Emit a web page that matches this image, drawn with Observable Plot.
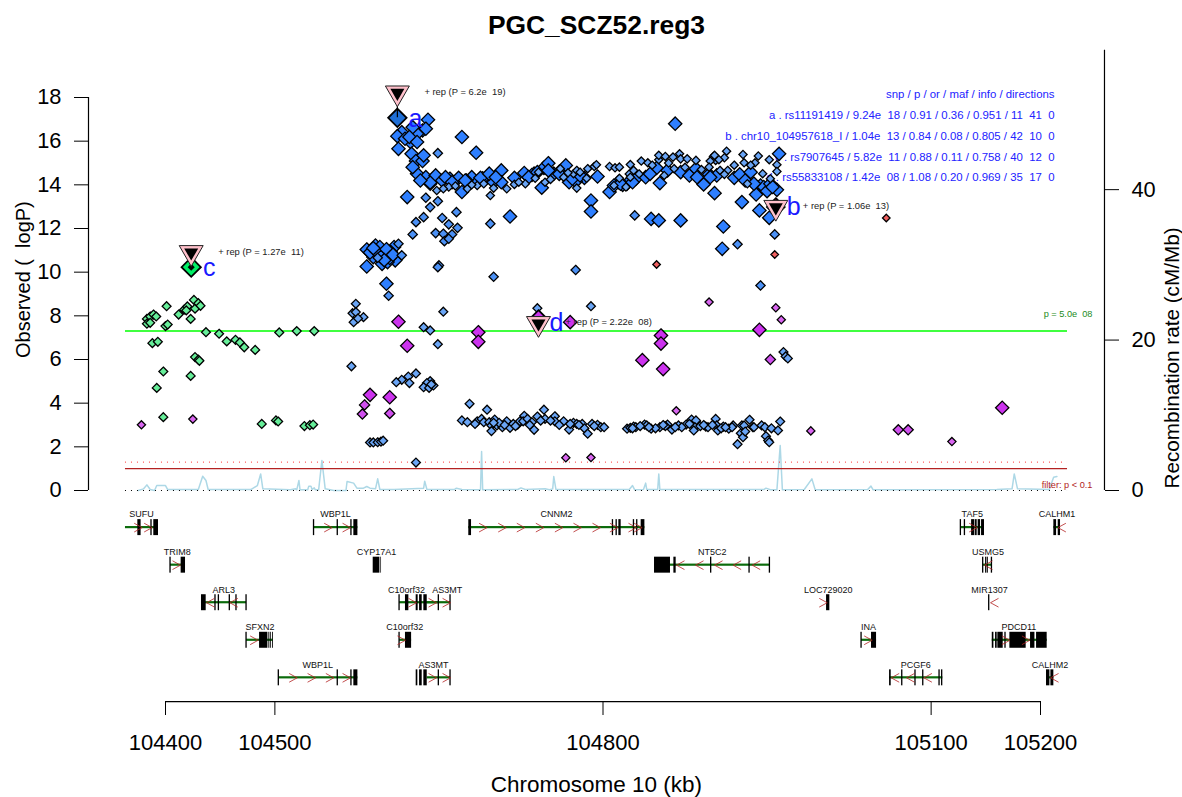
<!DOCTYPE html>
<html><head><meta charset="utf-8">
<script src="https://cdn.jsdelivr.net/npm/d3@7"></script>
<script src="https://cdn.jsdelivr.net/npm/@observablehq/plot@0.6"></script>
<style>html,body{margin:0;padding:0;background:#fff;overflow:hidden}svg{display:block}</style>
</head><body><div id="chart"></div>
<script>
const titleText = "PGC_SCZ52.reg3";
const xLabel = "Chromosome 10 (kb)";
const yLabel = "Observed (\u00a0\u00a0logP)";
const y2Label = "Recombination rate (cM/Mb)";
const xTicks = [104400,104500,104800,105100,105200];
const yTicks = [0,2,4,6,8,10,12,14,16,18];
const y2Ticks = [0,20,40];
const tableRows = [
 "snp / p / or / maf / info / directions",
 "a . rs11191419 / 9.24e\u00a0\u00a018 / 0.91 / 0.36 / 0.951 / 11\u00a0\u00a041\u00a0\u00a00",
 "b . chr10_104957618_I / 1.04e\u00a0\u00a013 / 0.84 / 0.08 / 0.805 / 42\u00a0\u00a010\u00a0\u00a00",
 "c . rs7907645 / 5.82e\u00a0\u00a011 / 0.88 / 0.11 / 0.758 / 40\u00a0\u00a012\u00a0\u00a00",
 "d . rs55833108 / 1.42e\u00a0\u00a008 / 1.08 / 0.20 / 0.969 / 35\u00a0\u00a017\u00a0\u00a00"
];
const tableY = [18.14,17.17,16.21,15.24,14.33];

const greenSmall = [[104383,7.86],[104386,7.97],[104389,8.06],[104391.5,7.97],[104383,7.64],[104386,7.68],[104401,8.44],[104400,7.53],[104402,7.6],[104412,8.06],[104417,8.28],[104420,8.43],[104419,8.25],[104423,7.86],[104426,8.73],[104427,8.33],[104430,8.58],[104432,8.46],[104437,7.25],[104449,7.18],[104456,6.83],[104464,6.9],[104468,6.78],[104472,6.56],[104482,6.44],[104504,7.24],[104520,7.3],[104536,7.3],[104388,6.75],[104393,6.81],[104398,5.45],[104392,4.7],[104423,5.25],[104427,6.11],[104430,5.99],[104431,5.94],[104398,3.36],[104488,3.05],[104501,3.21],[104503,3.16],[104527,2.95],[104532,2.99],[104535,3.02]];
const purpleSmall = [[104378,3.01],[104425,3.27],[104766,1.5],[104789,1.51],[104897,8.63],[104867,3.65],[104958,8.37],[104963,7.82],[104990,2.73],[105119,2.24]];
const purpleMid = [[104953,6.0],[105070,2.78],[105079,2.78],[104582,3.92],[104580,3.5],[104605,3.53]];
const purpleLarge = [[104613,7.73],[104621,6.63],[104587,4.38],[104605,4.27],[104686,7.25],[104686,6.81],[104770,7.71],[104853,7.1],[104853,6.73],[104836,5.97],[104855,5.56],[104943,7.36],[105165,3.79]];
const salmonSmall = [[104849,10.35],[105059,12.48],[104957,10.81]];
const blueLarge = [[104640,16.98],[104635,16.49],[104630,16.34],[104616,16.41],[104612,16.23],[104624,15.96],[104619,16.11],[104613,15.65],[104625,15.42],[104629,15.09],[104635,15.09],[104630,14.51],[104638,14.35],[104671,16.19],[104684,15.47],[104866,16.8],[104621,13.44],[104647,14.43],[104653,14.2],[104660,14.28],[104668,14.32],[104671,13.67],[104680,14.35],[104685,14.12],[104694,14.38],[104700,14.12],[104707,14.66],[104707,14.12],[104719,14.32],[104728,14.54],[104737,14.51],[104744,13.87],[104746,14.78],[104750,14.99],[104755,14.51],[104769,14.12],[104766,14.89],[104783,14.32],[104795,14.38],[104789,13.28],[104789,12.78],[104806,13.67],[104814,14.12],[104822,14.05],[104830,14.28],[104839,14.35],[104849,14.77],[104852,14.08],[104871,14.58],[104879,14.43],[104885,14.74],[104892,14.02],[104897,14.48],[104902,13.62],[104715,12.55],[104871,12.37],[104844,12.44],[104851,12.37],[104642,14.05],[104675,14.2],[104690,14.3],[104735,14.45],[104760,14.6],[104775,14.15],[104818,14.0],[104920,14.32],[104925,14.48],[104935,14.58],[104927,13.21],[104944,13.97],[104947,13.9],[104940,13.56],[104950,13.71],[104953,14.05],[104959,13.77],[104943,12.83],[104952,12.49],[104961,15.42],[104910,12.09],[104909,11.07],[104584,11.04],[104592,11.22],[104596,11.15],[104600,10.92],[104598,10.38],[104584,10.26],[104609,11.15],[104606,10.92],[104610,10.54],[104603,10.46],[104590,10.69],[104602,9.47],
[104642,14.1],[104656,14.35],[104662,14.12],[104674,14.2],[104688,14.32],[104696,14.51],[104702,14.35],[104732,14.35],[104740,14.58],[104750,14.66],[104760,14.5],[104772,14.28],[104779,14.43],[104810,13.97],[104816,14.05],[104827,14.12],[104843,14.5],[104859,14.66],[104886,14.35],[104904,14.43],[104898,14.35],[104930,14.2],[104938,14.05],[104955,13.9],[104626,16.64],[104638,16.57],[104623,16.19],[104630,15.96],[104636,15.35],[104626,14.81],[104633,14.2],[104587,10.9],[104593,10.95],[104597,10.7],[104602,11.05],[104605,10.65],[104600,10.55],[104608,10.8],[104590,11.1]];
const blueMid = [[104649,15.45],[104638,13.41],[104642,12.98],[104649,13.25],[104636,12.52],[104629,12.29],[104626,11.73],[104666,12.75],[104653,12.48],[104697,12.22],[104647,11.79],[104659,12.19],[104667,12.03],[104654,11.76],[104662,11.73],[104655,11.42],[104659,11.53],[104650,10.31],[104649,10.23],[104829,12.6],[104923,11.28],[104957,11.73],[104944,9.39],[104700,9.79],[104775,10.1],[104613,11.3],[104616,10.77],[104594,10.66],[104604,8.92]];
const blueSmall = [[104806,14.84],[104811,14.78],[104815,14.81],[104825,14.93],[104835,15.09],[104841,15.01],[104851,15.15],[104851,15.35],[104857,15.3],[104864,15.27],[104870,15.42],[104871,15.19],[104877,15.19],[104885,15.12],[104901,15.3],[104903,15.12],[104659,13.9],[104648,13.74],[104654,13.82],[104676,13.82],[104685,13.97],[104691,14.05],[104697,13.51],[104712,13.82],[104719,14.02],[104729,14.05],[104747,14.12],[104773,14.51],[104776,14.66],[104786,14.74],[104792,14.84],[104794,14.92],[104776,13.85],[104764,14.35],[104779,14.58],[104761,14.74],[104741,14.58],[104723,14.12],[104824,14.5],[104828,14.66],[104856,14.43],[104865,14.74],[104907,14.66],[104810,13.97],[104821,13.9],[104825,14.35],[104902,15.35],[104913,15.54],[104911,15.24],[104906,15.15],[104898,15.09],[104928,15.39],[104929,15.01],[104942,15.32],[104939,15.01],[104952,15.15],[104959,14.92],[104959,14.61],[104914,14.66],[104946,14.51],[104932,14.05],[104911,14.48],[104897,14.81],[104953,14.28],[104665,13.95],[104680,14.0],[104700,13.85],[104738,14.3],[104752,14.25],[104768,14.55],[104785,14.3],[104815,14.3],[104833,14.5],[104845,14.9],[104860,15.0],[104875,14.8],[104890,14.7],[104920,14.9],[104935,14.9]];
const lowerBlue = [[104654,8.19],[104636,7.48],[104642,7.33],[104649,6.7],[104740,8.35],[104789,8.44],[104965,6.34],[104967,6.14],[104969,6.05],[104574,8.55],[104571,8.12],[104574,8.17],[104581,7.94],[104572,7.71],[104576,7.88],[104570,5.69],[104629,5.36],[104622,5.22],[104616,5.07],[104611,4.96],[104623,4.92],[104642,5.01],[104639,4.92],[104636,4.73],[104641,4.7],[104645,4.81],[104643,4.86],[104587,2.2],[104590,2.2],[104594,2.21],[104597,2.24],[104599,2.28],[104629,1.28],
[104678,3.97],[104694,3.7],[104671,3.21],[104676,3.13],[104685,3.17],[104689,3.28],[104691,3.13],[104696,3.13],[104701,3.25],[104698,2.98],[104703,2.98],[104698,2.72],[104708,2.9],[104712,3.17],[104715,2.87],[104722,3.02],[104724,3.17],[104728,3.42],[104727,3.17],[104731,3.28],[104735,3.13],[104737,2.78],[104740,3.39],[104746,3.7],[104747,3.28],[104756,3.4],[104756,3.17],[104764,3.17],[104769,2.79],[104773,3.1],[104776,3.05],[104781,3.05],[104783,2.85],[104786,2.6],[104790,3.05],[104795,3.01],[104798,2.9],[104801,2.9],[104822,2.83],[104825,2.87],[104828,2.93],[104838,3.02],[104840,2.98],[104844,2.83],[104852,2.9],[104859,3.02],[104863,2.79],[104869,2.98],[104876,3.02],[104881,3.25],[104885,3.21],[104884,2.9],[104883,2.75],[104894,2.93],[104896,2.9],[104903,3.28],[104904,2.98],[104905,2.75],[104910,2.93],[104915,2.83],[104919,2.98],[104927,2.98],[104934,3.24],[104937,2.9],[104926,2.62],[104928,2.44],[104923,2.12],[104929,2.98],[104938,2.9],[104945,2.98],[104948,2.9],[104954,2.85],[104962,3.16],[104960,2.75],[104949,2.49],[104951,2.29],[104952,2.21],[104705,3.1],[104718,3.05],[104760,3.0],[104830,2.9],[104834,2.95],[104848,2.85],[104857,2.95],[104872,2.9],[104889,2.95],[104900,3.0],[104908,2.85],[104918,2.9],[104683,3.05],[104700,3.1],[104710,3.0],[104720,2.95],[104733,3.0],[104743,3.2],[104752,3.2],[104770,3.05],[104778,3.0],[104792,2.95],[104827,2.85],[104842,2.9],[104855,3.0],[104866,2.9],[104879,3.05],[104892,3.0],[104912,2.9],[104930,2.7]];
const leadA = [[104612,17.07]];
const leadB = [[104958,12.98]];
const leadC = [[104423.5,10.23]];
const leadD = [[104741,7.85]];

const repMarks = [[104612,18.21],[104958,12.97],[104423.5,10.9],[104741,7.65]];
const repLeads = [17.07,12.98,10.23,7.85];
const repNames = ["a","b","c","d"];
const repNameY = [17.0,13.0,10.2,7.65];
const repNotes = ["+ rep (P = 6.2e\u00a0\u00a019)","+ rep (P = 1.06e\u00a0\u00a013)","+ rep (P = 1.27e\u00a0\u00a011)","+ rep (P = 2.22e\u00a0\u00a008)"];

const recombKb = [104375,104380,104383,104386,104390,104392,104400,104402,104430,104434,104437,104439,104478,104484,104487,104489,104514,104519,104520,104522,104523,104530,104531,104533,104534,104536,104537,104540,104543,104546,104554,104565,104566,104572,104575,104581,104584,104587,104592,104594,104596,104609,104636,104637,104639,104651,104664,104666,104671,104688,104689,104690,104722,104725,104729,104747,104751,104754,104755,104757,104824,104827,104829,104837,104839,104840,104850,104851,104852,104947,104949,104953,104959,104962,104964,104984,104991,104994,105042,105045,105047,105160,105174,105176,105179,105208,105212,105215];
const recombRate = [0,.22,.75,.13,0,.66,.66,.13,.13,1.9,1.33,.13,.13,.66,2.2,.22,.09,.22,.09,1.33,.09,.09,.58,.58,.13,.35,.09,.09,4.0,.22,0,0,1.2,.98,.31,.31,.53,.31,.22,1.55,.13,.13,.31,1.24,.13,.13,.13,.31,.13,.09,5.19,.09,.13,.35,.13,.22,.09,.22,1.86,.13,.13,.66,.09,.13,.98,.13,.13,2.2,.13,.13,.31,.09,.09,5.98,.09,.13,1.55,.09,.13,.58,.09,.13,.22,2.2,.22,.13,1.77,1.86];

const geneNames = ["SUFU","WBP1L","CNNM2","TAF5","CALHM1","TRIM8","CYP17A1","NT5C2","USMG5","ARL3","C10orf32","AS3MT","LOC729020","MIR1307","SFXN2","C10orf32","INA","PDCD11","WBP1L","AS3MT","PCGF6","CALHM2"];
const geneRows = [0,0,0,0,0,1,1,1,1,2,2,2,2,2,3,3,3,3,4,4,4,4];
const geneLabelKb = [104378,104555.4,104757.5,105137.6,105215,104410.7,104593,104899.8,105151.9,104453.3,104620.4,104657.5,105005.9,105153.4,104486.3,104618.8,105042.8,105180.2,104539.3,104645,105086,105208.6];
const geneDirs = [1,1,1,1,-1,1,1,-1,-1,-1,1,1,1,-1,1,1,1,1,1,1,-1,-1];
const geneExons = [
 [[104374.7,104377.7],[104386.6,104387.8],[104389.3,104393.6]],
 [[104535.2,104536.4],[104556.9,104558.1],[104569.4,104570.6],[104572.2,104575.9]],
 [[104677.3,104679.8],[104808.5,104809.7],[104811.9,104813.1],[104814.5,104816.6],[104827.7,104828.9],[104830.7,104831.9],[104834.9,104838.3]],
 [[105126.6,105127.8],[105130.3,105131.5],[105137,105140],[105140.6,105142.1],[105143,105145.2],[105146.1,105148.8]],
 [[105212.2,105214.7],[105216.2,105218.3]],
 [[104404,104405.2],[104414.3,104418.3]],
 [[104589.9,104596],[104596.9,104597.5]],
 [[104847.1,104861.7],[104864.8,104866.9],[104898.3,104899.5],[104933.4,104934.6],[104952,104953.2]],
 [[105147,105148.2],[105149.8,105151],[105151.5,105152.3],[105155,105156.2]],
 [[104432.9,104437.2],[104445.1,104446.3],[104448.2,104449.4],[104458.2,104459.4],[104464.3,104465.5],[104473.5,104474.7]],
 [[104613.4,104614.6],[104619.4,104622.5],[104629.2,104631],[104632.3,104634.7],[104636.2,104639.3]],
 [[104649.3,104650.5],[104660,104661.2]],
 [[105004.4,105007.4]],
 [[105152.5,105153.7]],
 [[104473.5,104474.7],[104486,104493.6],[104494.5,104495.3],[104495.9,104496.7],[104497.8,104498.6]],
 [[104613.4,104614.6],[104619.4,104625]],
 [[105035.8,105037],[105045.5,105050.1]],
 [[105155.9,105157.4],[105158.9,105160.4],[105161,105165.9],[105167.4,105168.6],[105172,105186.9],[105190.9,105194.9],[105196.4,105206.1]],
 [[104503,104504.2],[104556.9,104558.1],[104569.4,104570.6],[104572.2,104575.9]],
 [[104629.2,104630.7],[104632.3,104634.7],[104636.2,104639.3],[104649.3,104650.5],[104660,104661.2]],
 [[105062,105063.5],[105073,105074.2],[105085.1,105086.3],[105092.2,105093.4],[105107.1,105108.3],[105109.5,105110.7]],
 [[105205.5,105208.6],[105209.5,105212.2]]
];
const geneSpans = [[104363.4,104393.6],[104535.6,104575.9],[104677.3,104838.3],[105127.2,105148.8],[105212.2,105218.3],[104404.6,104418.3],null,[104847.1,104952.6],[105147.6,105155.5],[104432.9,104474.1],[104614,104649.9],[104639.3,104660.6],null,null,[104474.1,104498.4],[104614,104625],[105036.4,105050.1],[105155.9,105206.1],[104503.6,104575.9],[104639.3,104660.6],[105062,105110.7],[105205.5,105212.2]];
const geneArrows = [[104378.7,104387.8],[104552.4,104569.2],[104694,104711.5,104728.5,104745.9,104763.3,104780.3,104797.7,104813.6,104830.6,104835.8],[105142.1],[105215.9],[104413.7],[],[104867.2,104884.6,104902,104919,104936.4],[105148.8],[104437.5,104458.8],[104629.5],[104647.8,104660.6],[105005],[105154.3],[104484.7],[104619.4],[105046.1],[105172,105190.3],[104520.4,104537.2,104553.9,104569.2],[104647.8,104660.6],[105063.5,105077.5,105093.4],[105209.2]];

// Reference levels
const gwsLevel = 7.3, filterLevel = 1, filterDotted = 1.3;
const recombFactor = 7.52/21.83;
const toY = r => r*recombFactor;
const rowY = r => -1.7 - 1.72*r;

const exonRows = geneExons.flatMap((ex,i)=>ex.map(([a,b])=>({a,b,y:rowY(geneRows[i])})));
const spanRows = geneSpans.flatMap((s,i)=>s?[{a:s[0],b:s[1],y:rowY(geneRows[i])}]:[]);
const labelRows = geneNames.map((n,i)=>({n,x:geneLabelKb[i],y:rowY(geneRows[i])+0.6}));
const chevrons = geneArrows.flatMap((arr,i)=>arr.flatMap(t=>[1,-1].map(s=>({x1:t-geneDirs[i]*7.3,y1:rowY(geneRows[i])+s*0.2,x2:t,y2:rowY(geneRows[i])}))));
const recomb = recombKb.map((x,i)=>({x,y:toY(recombRate[i])}));
const font = "'Liberation Sans', Helvetica, Arial, sans-serif";

const pts = (data,fill,r,sw=1.3)=>Plot.dot(data,{x:d=>d[0],y:d=>d[1],symbol:"diamond2",r,fill,stroke:"#000",strokeWidth:sw});
const xL=104329.6, xR=105258.5, lineL=104363.4, lineR=105224.7, tableX=105212.8, noteX=105247.5;

const chart = Plot.plot({
 width:1182,height:797,marginLeft:88,marginRight:78,marginTop:48,marginBottom:96,
 style:{fontFamily:font,background:"#fff",color:"#000"},
 x:{domain:[104400,105200],range:[165,1040],axis:null},
 y:{domain:[0,18],range:[490,97],axis:null},
 marks:[
  Plot.text([titleText],{x:()=>104794,y:()=>21.3,text:d=>d,fontSize:26.4,fontWeight:"bold",fill:"#000"}),
  Plot.text([xLabel],{x:()=>104794,y:()=>-13.47,text:d=>d,fontSize:22.5,fill:"#000"}),
  Plot.text([yLabel],{x:()=>104270,y:()=>9.66,text:d=>d,fontSize:20,rotate:-90,fill:"#000"}),
  Plot.text([y2Label],{x:()=>105320.7,y:()=>6.07,text:d=>d,fontSize:20.7,rotate:-90,fill:"#000"}),
  Plot.ruleX([xL],{y1:0,y2:18,stroke:"#000",strokeWidth:1.2}),
  Plot.ruleX([xR],{y1:0,y2:20.16,stroke:"#000",strokeWidth:1.2}),
  Plot.ruleY([-9.67],{x1:104400,x2:105200,stroke:"#000",strokeWidth:1.2}),
  Plot.axisY({anchor:"left",ticks:yTicks,tickSize:14,tickPadding:13,fontSize:21.8,label:null,tickFormat:d3.format("d")}),
  Plot.axisY({anchor:"right",ticks:y2Ticks.map(toY),tickSize:14,tickPadding:13,fontSize:21.8,label:null,tickFormat:d=>String(Math.round(d/recombFactor))}),
  Plot.axisX({anchor:"bottom",ticks:xTicks,tickSize:14,tickPadding:19,fontSize:22,label:null,tickFormat:d3.format("d")}),
  Plot.line(recomb,{x:"x",y:"y",stroke:"#ADD8E6",strokeWidth:1.5}),
  Plot.ruleY([gwsLevel],{x1:lineL,x2:lineR,stroke:"#00FF00",strokeWidth:1.5}),
  Plot.ruleY([filterLevel],{x1:lineL,x2:lineR,stroke:"#B22222",strokeWidth:1.3}),
  Plot.ruleY([filterDotted],{x1:lineL,x2:lineR,stroke:"#FF3030",strokeWidth:1,strokeDasharray:"1,5"}),
  Plot.ruleY([0],{x1:lineL,x2:lineR,stroke:"#000",strokeWidth:1,strokeDasharray:"1,5"}),
  Plot.text(["p = 5.0e\u00a0\u00a008"],{x:()=>noteX,y:()=>8.06,text:d=>d,textAnchor:"end",fontSize:9.2,fill:"#228B22"}),
  Plot.text(["filter: p < 0.1"],{x:()=>noteX,y:()=>0.27,text:d=>d,textAnchor:"end",fontSize:9.2,fill:"#B22222"}),
  Plot.text(tableRows,{x:()=>tableX,y:(d,i)=>tableY[i],text:d=>d,textAnchor:"end",fontSize:11.4,fill:"#2222FF"}),
  pts(blueLarge,"#2E7FFF",6),
  pts(purpleLarge,"#CC33EE",6),
  pts(blueMid,"#4C91F5",4.2),
  pts(purpleMid,"#D050EE",4.6),
  pts(blueSmall,"#6AA5F5",3.7),
  pts(lowerBlue,"#6AA5F5",4.0),
  pts(greenSmall,"#66EE99",4.0),
  pts(purpleSmall,"#D966F0",3.7),
  pts(salmonSmall,"#F06060",3.4),
  pts(leadA,"#1F6FD6",8.3,1.8),
  pts(leadB,"#D03030",8,1.8),
  pts(leadC,"#00EE66",8.7,1.8),
  pts(leadC,"#000",3.2,0),
  pts(leadD,"#CC33EE",8,1.8),
  Plot.ruleX(repMarks,{x:d=>d[0],y1:d=>d[1],y2:(d,i)=>repLeads[i],stroke:"#000",strokeWidth:1.2}),
  Plot.dot(repMarks,{x:d=>d[0],y:d=>d[1],symbol:"triangle",rotate:180,r:8.9,fill:"#FFC0CB",stroke:"#222",strokeWidth:1}),
  Plot.dot(repMarks,{x:d=>d[0],y:d=>d[1],symbol:"triangle",rotate:180,r:5.2,fill:"#000"}),
  Plot.text(repMarks,{x:d=>d[0],y:(d,i)=>repNameY[i],dx:18,text:(d,i)=>repNames[i],fontSize:25,textAnchor:"middle",fill:"#1A1AFF"}),
  Plot.text(repMarks,{x:d=>d[0],y:d=>d[1],dx:27,dy:-1,text:(d,i)=>repNotes[i],fontSize:9.4,textAnchor:"start",fill:"#222"}),
  Plot.rect(spanRows,{x1:"a",x2:"b",y1:d=>d.y+0.05,y2:d=>d.y-0.05,fill:"#0B6B0B"}),
  Plot.rect(exonRows,{x1:"a",x2:"b",y1:d=>d.y+0.366,y2:d=>d.y-0.366,fill:"#000"}),
  Plot.link(chevrons,{x1:"x1",y1:"y1",x2:"x2",y2:"y2",stroke:"#B22222",strokeWidth:0.8}),
  Plot.text(labelRows,{x:"x",y:"y",text:"n",fontSize:9,fill:"#111"})
 ]
});
document.getElementById("chart").appendChild(chart);
</script></body></html>
